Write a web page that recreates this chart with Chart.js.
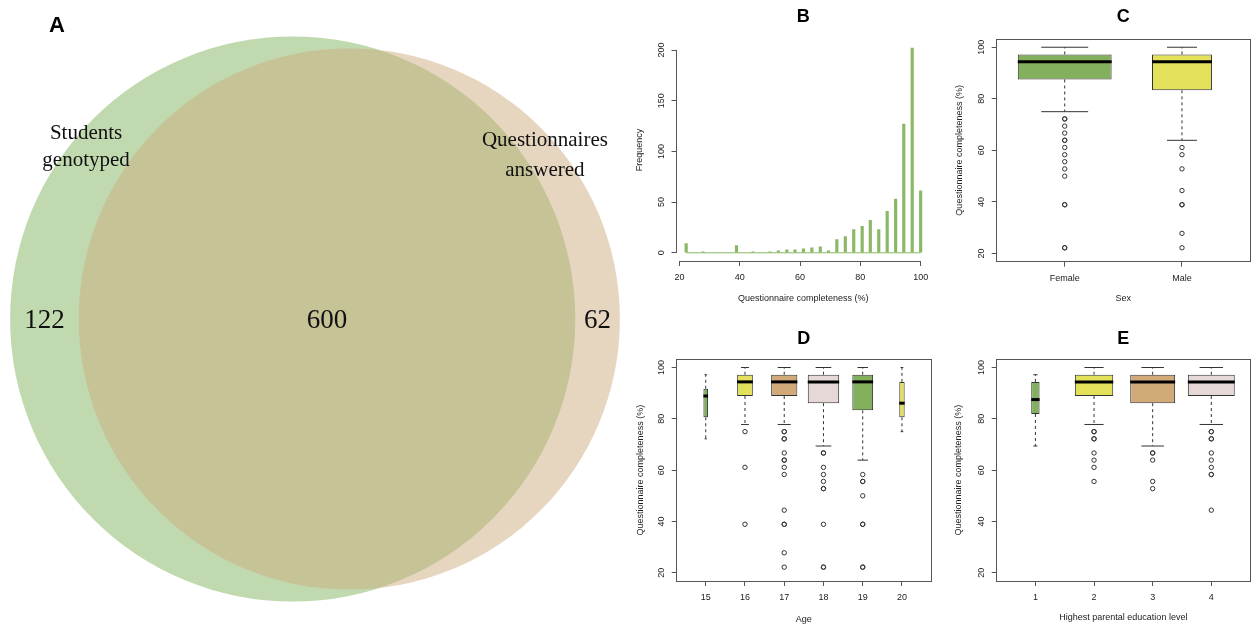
<!DOCTYPE html>
<html>
<head>
<meta charset="utf-8">
<script src="https://cdn.jsdelivr.net/npm/chart.js@4.4.0/dist/chart.umd.min.js"></script>
<style>
  body { margin: 0; background: #fff; }
  #wrap { position: relative; width: 1256px; height: 628px; overflow: hidden; }
  canvas { position: absolute; }
</style>
</head>
<body>
<div id="wrap">
  <canvas id="venn" width="630" height="628" style="left:0;top:0"></canvas>
  <canvas id="histB" width="313" height="314" style="left:630px;top:0"></canvas>
  <canvas id="boxC" width="313" height="314" style="left:943px;top:0"></canvas>
  <canvas id="boxD" width="313" height="314" style="left:630px;top:314px"></canvas>
  <canvas id="boxE" width="313" height="314" style="left:943px;top:314px"></canvas>
</div>
<script>
// A: venn counts (genotyped only, both, questionnaire only)
const vennNames = [['Students', 'genotyped'], ['Questionnaires', 'answered']];
const vennCounts = [122, 600, 62];

// B: completeness histogram
const complValues = [22.2, 27.8, 38.9, 44.4, 50.0, 52.8, 55.6, 58.3, 61.1, 63.9, 66.7, 69.4,
                     72.2, 75.0, 77.8, 80.6, 83.3, 86.1, 88.9, 91.7, 94.4, 97.2, 100];
const complFreq = [9, 1, 7, 1, 1, 2, 3, 3, 4, 5, 6, 2, 13, 16, 23, 26, 32, 23, 41, 53, 127, 202, 61];
const histXTicks = [20, 40, 60, 80, 100];
const histYTicks = [0, 50, 100, 150, 200];

// C: by sex
const sexGroups = ['Female', 'Male'];
const sexN = [470, 192];
const sexLow = [75.0, 63.9];
const sexQ1 = [87.5, 83.3];
const sexMed = [94.4, 94.4];
const sexQ3 = [97.2, 97.2];
const sexHigh = [100, 100];
const sexOut = [
  [72.2, 72.2, 69.4, 66.7, 63.9, 63.9, 61.1, 58.3, 55.6, 52.8, 50.0, 38.9, 38.9, 22.2, 22.2],
  [61.1, 58.3, 52.8, 44.4, 38.9, 38.9, 27.8, 22.2]
];

// D: by age
const ageGroups = ['15', '16', '17', '18', '19', '20'];
const ageN = [6, 68, 189, 272, 119, 8];
const ageLow = [72.2, 77.8, 77.8, 69.4, 63.9, 75.0];
const ageQ1 = [80.6, 88.9, 88.9, 86.1, 83.3, 80.6];
const ageMed = [88.9, 94.4, 94.4, 94.4, 94.4, 86.1];
const ageQ3 = [91.7, 97.2, 97.2, 97.2, 97.2, 94.4];
const ageHigh = [97.2, 100, 100, 100, 100, 100];
const ageOut = [
  [],
  [75.0, 61.1, 38.9],
  [75.0, 75.0, 72.2, 72.2, 66.7, 63.9, 63.9, 61.1, 58.3, 44.4, 38.9, 38.9, 27.8, 22.2],
  [66.7, 66.7, 61.1, 58.3, 55.6, 52.8, 52.8, 38.9, 22.2, 22.2],
  [58.3, 55.6, 55.6, 50.0, 38.9, 38.9, 22.2, 22.2],
  []
];

// E: by parental education
const eduGroups = ['1', '2', '3', '4'];
const eduN = [8, 169, 232, 253];
const eduLow = [69.4, 77.8, 69.4, 77.8];
const eduQ1 = [81.9, 88.9, 86.1, 88.9];
const eduMed = [87.5, 94.4, 94.4, 94.4];
const eduQ3 = [94.4, 97.2, 97.2, 97.2];
const eduHigh = [97.2, 100, 100, 100];
const eduOut = [
  [],
  [75.0, 75.0, 72.2, 72.2, 66.7, 63.9, 61.1, 55.6],
  [66.7, 66.7, 63.9, 55.6, 52.8],
  [75.0, 75.0, 72.2, 72.2, 66.7, 63.9, 61.1, 58.3, 58.3, 44.4]
];
const boxYTicks = [20, 40, 60, 80, 100];

const boxColors = ['#83b05d', '#e3e05a', '#d2aa7a', '#e5d8d6'];
const lineCol = '#333';
const axisCol = '#555';

Chart.defaults.font.family = "'Liberation Sans', Arial, sans-serif";
Chart.defaults.font.size = 9;
Chart.defaults.color = '#222';
Chart.defaults.animation = false;
Chart.defaults.plugins.legend.display = false;
Chart.defaults.plugins.tooltip.enabled = false;

const alignPx = p => Math.round(p - 0.5) + 0.5;

// ---------- A: venn ----------
function overlapArea(r1, r2, d) {
  if (d >= r1 + r2) return 0;
  if (d <= Math.abs(r1 - r2)) return Math.PI * Math.min(r1, r2) ** 2;
  const a = r1 * r1 * Math.acos((d * d + r1 * r1 - r2 * r2) / (2 * d * r1));
  const b = r2 * r2 * Math.acos((d * d + r2 * r2 - r1 * r1) / (2 * d * r2));
  const c = 0.5 * Math.sqrt((-d + r1 + r2) * (d + r1 - r2) * (d - r1 + r2) * (d + r1 + r2));
  return a + b - c;
}

const VW = 630, VH = 628;
const totG = vennCounts[0] + vennCounts[1];
const totQ = vennCounts[1] + vennCounts[2];
const kScale = 0.45 * VH / Math.sqrt(totG);
const rG = kScale * Math.sqrt(totG), rQ = kScale * Math.sqrt(totQ);
let lo = Math.abs(rG - rQ), hi = rG + rQ;
const target = Math.PI * kScale * kScale * vennCounts[1];
for (let i = 0; i < 60; i++) {
  const mid = (lo + hi) / 2;
  if (overlapArea(rG, rQ, mid) > target) lo = mid; else hi = mid;
}
const dist = (lo + hi) / 2;
const cxG = (VW - (rG + dist + rQ)) / 2 + rG;
const cyV = VH / 2 + 5;

const vennText = {
  id: 'vennText',
  afterDatasetsDraw(chart) {
    const ctx = chart.ctx;
    const g = chart.getDatasetMeta(0).data[0], q = chart.getDatasetMeta(1).data[0];
    const rg = g.options.radius, rq = q.options.radius;
    const gl = g.x - rg, gr = g.x + rg, ql = q.x - rq, qr = q.x + rq;
    ctx.save();
    ctx.fillStyle = '#111';
    ctx.textAlign = 'center';
    ctx.font = "27px 'Liberation Serif', 'Times New Roman', serif";
    ctx.fillText(vennCounts[0], (gl + ql) / 2, g.y + 9);
    ctx.fillText(vennCounts[1], (ql + gr) / 2, g.y + 9);
    ctx.fillText(vennCounts[2], (gr + qr) / 2, g.y + 9);
    ctx.font = "21px 'Liberation Serif', 'Times New Roman', serif";
    ctx.fillText(vennNames[0][0], gl + 76, g.y - 180);
    ctx.fillText(vennNames[0][1], gl + 76, g.y - 153);
    ctx.fillText(vennNames[1][0], qr - 75, g.y - 173);
    ctx.fillText(vennNames[1][1], qr - 75, g.y - 143);
    ctx.fillStyle = '#000';
    ctx.font = "bold 22px 'Liberation Sans', Arial, sans-serif";
    ctx.fillText('A', 57, 32);
    ctx.restore();
  }
};

new Chart('venn', {
  type: 'bubble',
  data: {
    datasets: [
      {data: [{x: cxG, y: cyV, r: rG}], backgroundColor: 'rgba(124,176,88,0.48)', borderWidth: 0, order: 1, clip: false},
      {data: [{x: cxG + dist, y: cyV, r: rQ}], backgroundColor: 'rgba(205,173,127,0.5)', borderWidth: 0, order: 0, clip: false}
    ]
  },
  options: {
    responsive: false,
    layout: {padding: 0, autoPadding: false},
    scales: {
      x: {display: false, min: 0, max: VW},
      y: {display: false, min: 0, max: VH, reverse: true}
    }
  },
  plugins: [vennText]
});

// ---------- shared bits ----------
const tickGrid = {display: true, drawOnChartArea: false, drawTicks: true, tickLength: 5, color: axisCol, offset: false};

function titleOpts(letter, top, bottom) {
  return {
    display: true, text: letter, color: '#000', fullSize: false,
    font: {size: 18, weight: 'bold'}, padding: {top: top, bottom: bottom}
  };
}

// R style axis lines, only between first and last tick
const rAxes = {
  id: 'rAxes',
  afterDraw(chart) {
    const {ctx, chartArea: a, scales: {x, y}} = chart;
    ctx.save();
    ctx.strokeStyle = axisCol;
    ctx.lineWidth = 1;
    ctx.beginPath();
    const xb = alignPx(a.bottom), yl = alignPx(a.left);
    ctx.moveTo(x.getPixelForValue(x.ticks[0].value), xb);
    ctx.lineTo(x.getPixelForValue(x.ticks[x.ticks.length - 1].value), xb);
    ctx.moveTo(yl, y.getPixelForValue(y.ticks[0].value));
    ctx.lineTo(yl, y.getPixelForValue(y.ticks[y.ticks.length - 1].value));
    ctx.stroke();
    ctx.restore();
  }
};

const frame = {
  id: 'frame',
  afterDraw(chart) {
    const {ctx, chartArea: a} = chart;
    ctx.save();
    ctx.strokeStyle = axisCol;
    ctx.lineWidth = 1;
    const l = alignPx(a.left), t = alignPx(a.top), r = alignPx(a.right), b = alignPx(a.bottom);
    ctx.strokeRect(l, t, r - l, b - t);
    ctx.restore();
  }
};

const whiskers = {
  id: 'whiskers',
  afterDatasetsDraw(chart) {
    const {ctx, scales: {y}} = chart;
    ctx.save();
    chart.data.datasets.forEach((ds, i) => {
      if (!ds.stat) return;
      const bar = chart.getDatasetMeta(i).data[0];
      const x = bar.x, w = bar.width;
      const yLow = y.getPixelForValue(ds.stat.low);
      const yHigh = y.getPixelForValue(ds.stat.high);
      const yQ1 = y.getPixelForValue(ds.data[0].y[0]);
      const yQ3 = y.getPixelForValue(ds.data[0].y[1]);
      const yMed = y.getPixelForValue(ds.stat.med);
      ctx.strokeStyle = lineCol;
      ctx.lineWidth = 1;
      ctx.setLineDash([3, 3]);
      ctx.beginPath();
      ctx.moveTo(x, yQ3); ctx.lineTo(x, yHigh);
      ctx.moveTo(x, yQ1); ctx.lineTo(x, yLow);
      ctx.stroke();
      ctx.setLineDash([]);
      ctx.beginPath();
      ctx.moveTo(x - w / 4, yHigh); ctx.lineTo(x + w / 4, yHigh);
      ctx.moveTo(x - w / 4, yLow); ctx.lineTo(x + w / 4, yLow);
      ctx.stroke();
      ctx.strokeStyle = '#000';
      ctx.lineWidth = 3;
      ctx.beginPath();
      ctx.moveTo(x - w / 2, yMed); ctx.lineTo(x + w / 2, yMed);
      ctx.stroke();
    });
    ctx.restore();
  }
};

// ---------- B: histogram ----------
new Chart('histB', {
  type: 'bar',
  data: {
    datasets: [
      {
        data: complValues.map((v, i) => ({x: v, y: complFreq[i]})),
        backgroundColor: '#8ab866', barThickness: 2.5, grouped: false
      },
      {
        type: 'line',
        data: [{x: complValues[0], y: 0}, {x: complValues[complValues.length - 1], y: 0}],
        borderColor: '#8ab866', borderWidth: 1, pointRadius: 0
      }
    ]
  },
  options: {
    responsive: false,
    layout: {padding: {right: 13}},
    plugins: {title: titleOpts('B', 6.2, 11)},
    scales: {
      x: {
        type: 'linear', offset: false, min: 19.0, max: 103.1,
        afterBuildTicks: s => { s.ticks = histXTicks.map(v => ({value: v})); },
        afterFit: s => { s.height = 53; },
        grid: tickGrid, border: {display: false},
        ticks: {padding: 6, maxRotation: 0, autoSkip: false},
        title: {display: true, text: 'Questionnaire completeness (%)', padding: {top: 0, bottom: 10.3}}
      },
      y: {
        min: -8.1, max: 211.1,
        afterBuildTicks: s => { s.ticks = histYTicks.map(v => ({value: v})); },
        afterFit: s => { s.width = 46.5; },
        grid: tickGrid, border: {display: false},
        ticks: {padding: 2.5, minRotation: 90, maxRotation: 90, crossAlign: 'center'},
        title: {display: true, text: 'Frequency', padding: {top: 4.6, bottom: 0}}
      }
    }
  },
  plugins: [rAxes]
});

// ---------- C, D, E: box plots ----------
function boxPanel(id, cfg) {
  const N = cfg.groups.length;
  const maxN = Math.max(...cfg.n);
  const pos = cfg.groups.map((g, i) => i + 1);
  const datasets = cfg.groups.map((g, i) => ({
    type: 'bar',
    data: [{x: pos[i], y: [cfg.q1[i], cfg.q3[i]]}],
    backgroundColor: boxColors[i % boxColors.length],
    borderColor: lineCol, borderWidth: 1, borderSkipped: false,
    grouped: false, categoryPercentage: 0.8, barPercentage: Math.sqrt(cfg.n[i] / maxN),
    stat: {low: cfg.low[i], med: cfg.med[i], high: cfg.high[i]}
  }));
  datasets.push({
    type: 'scatter',
    data: cfg.out.flatMap((vs, i) => vs.map(v => ({x: pos[i], y: v}))),
    pointStyle: 'circle', pointRadius: 2.2, borderColor: lineCol, borderWidth: 1,
    backgroundColor: 'rgba(0,0,0,0)'
  });

  new Chart(id, {
    type: 'bar',
    data: {datasets},
    options: {
      responsive: false,
      layout: {padding: {right: cfg.padRight}},
      plugins: {title: titleOpts(cfg.letter, cfg.titleTop, cfg.titleBottom)},
      scales: {
        x: {
          type: 'linear', offset: false, min: 0.5 - 0.04 * N, max: N + 0.5 + 0.04 * N,
          afterBuildTicks: s => { s.ticks = pos.map(v => ({value: v})); },
          afterFit: s => { s.height = cfg.xAxisH; },
          grid: tickGrid, border: {display: false},
          ticks: {padding: 6, maxRotation: 0, autoSkip: false, callback: (v, i) => cfg.groups[i]},
          title: {display: true, text: cfg.xTitle, padding: {top: 0, bottom: cfg.xTitlePad}}
        },
        y: {
          min: 16.8, max: 103.2,
          afterBuildTicks: s => { s.ticks = boxYTicks.map(v => ({value: v})); },
          afterFit: s => { s.width = cfg.yAxisW; },
          grid: tickGrid, border: {display: false},
          ticks: {padding: 2.5, minRotation: 90, maxRotation: 90, crossAlign: 'center'},
          title: {display: true, text: 'Questionnaire completeness (%)', padding: {top: cfg.yTitlePad, bottom: 0}}
        }
      }
    },
    plugins: [whiskers, frame]
  });
}

boxPanel('boxC', {
  letter: 'C', groups: sexGroups, n: sexN, low: sexLow, q1: sexQ1, med: sexMed, q3: sexQ3, high: sexHigh, out: sexOut,
  xTitle: 'Sex', padRight: 6, titleTop: 6.2, titleBottom: 11.2, xAxisH: 52.3, xTitlePad: 10.3, yAxisW: 53.7, yTitlePad: 11.6
});

boxPanel('boxD', {
  letter: 'D', groups: ageGroups, n: ageN, low: ageLow, q1: ageQ1, med: ageMed, q3: ageQ3, high: ageHigh, out: ageOut,
  xTitle: 'Age', padRight: 12, titleTop: 14.2, titleBottom: 9.5, xAxisH: 47, xTitlePad: 3.3, yAxisW: 46.7, yTitlePad: 5.1
});

boxPanel('boxE', {
  letter: 'E', groups: eduGroups, n: eduN, low: eduLow, q1: eduQ1, med: eduMed, q3: eduQ3, high: eduHigh, out: eduOut,
  xTitle: 'Highest parental education level', padRight: 6, titleTop: 14.2, titleBottom: 9.5, xAxisH: 47, xTitlePad: 4.6, yAxisW: 53.7, yTitlePad: 10.6
});
</script>
</body>
</html>
